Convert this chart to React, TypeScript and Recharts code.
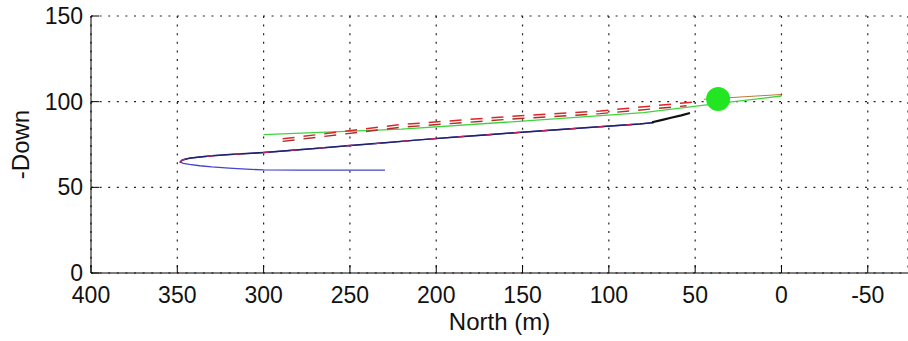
import React from "react";
import { ComposedChart, Line, Scatter, XAxis, YAxis, CartesianGrid } from "recharts";

// North (m) / -Down (m)
const northTicks = [400, 350, 300, 250, 200, 150, 100, 50, 0, -50];
const downTicks = [0, 50, 100, 150];

const blueNorth = [229.7, 260, 280, 300, 310, 320, 330, 337, 343, 346.5, 348.4, 347, 343, 337, 330, 320, 310, 300, 285, 270, 250, 230, 210, 190, 170, 150, 130, 110, 95, 82, 74];
const blueDown = [60.1, 60.1, 60.1, 60.2, 60.6, 61.2, 61.9, 62.6, 63.4, 64.0, 64.8, 66.0, 67.0, 67.7, 68.4, 69.1, 69.7, 70.3, 71.5, 72.7, 74.4, 76.0, 77.7, 79.3, 80.7, 82.2, 83.6, 85.0, 86.1, 87.0, 87.8];

// upper branch of the blue track, drawn again darker on top
const overNorth = [348.4, 347, 343, 337, 330, 320, 310, 300, 285, 270, 250, 230, 210, 190, 170, 150, 130, 110, 95, 82, 74];
const overDown = [64.8, 66.0, 67.0, 67.7, 68.4, 69.1, 69.7, 70.3, 71.5, 72.7, 74.4, 76.0, 77.7, 79.3, 80.7, 82.2, 83.6, 85.0, 86.1, 87.0, 87.8];

const blackNorth = [75, 69, 64, 58, 53];
const blackDown = [88.0, 89.4, 90.6, 92.0, 93.4];

const greenNorth = [300, 220, 160, 80, 40, 0];
const greenDown = [80.8, 84.0, 88.0, 93.6, 98.6, 103.3];

const redANorth = [289, 221, 160, 105, 47];
const redADown = [78.3, 86.6, 91.2, 94.6, 100.2];
const redBNorth = [289, 221, 160, 105, 55];
const redBDown = [76.8, 85.0, 89.6, 93.0, 97.6];
const brownNorth = [45, 0];
const brownDown = [101.4, 104.2];

const markerNorth = [36.7];
const markerDown = [101.6];

const pts = (xs: number[], ys: number[]) => xs.map((x, i) => ({ x, y: ys[i] }));

const FONT = "'Liberation Sans', Arial, sans-serif";

const XTick = (props: any) => {
  const { x, y, payload } = props;
  return (
    <g>
      <line x1={x} x2={x} y1={y} y2={y - 8} stroke="#000" />
      <text x={x} y={y + 30} textAnchor="middle" fontSize={23} fontFamily={FONT} fill="#111">
        {payload.value}
      </text>
    </g>
  );
};

const YTick = (props: any) => {
  const { x, y, payload } = props;
  return (
    <g>
      <line x1={x} x2={x + 8} y1={y} y2={y} stroke="#000" />
      <text x={x - 8} y={y + 8} textAnchor="end" fontSize={23} fontFamily={FONT} fill="#111">
        {payload.value}
      </text>
    </g>
  );
};

export default function App() {
  return (
    <div style={{ position: "absolute", left: 0, top: 0, width: 908, height: 341, background: "#fff" }}>
      <ComposedChart width={908} height={341} margin={{ top: 16, right: 0, bottom: 0, left: 0 }}>
        <CartesianGrid stroke="#222" strokeWidth={1.2} strokeDasharray="2 6.6" />
        <XAxis
          type="number"
          dataKey="x"
          domain={[-73.3, 400]}
          ticks={northTicks}
          reversed
          allowDataOverflow
          height={68}
          tickSize={0}
          tickMargin={0}
          tick={<XTick />}
          axisLine={{ stroke: "#000" }}
          label={{ value: "North (m)", position: "insideBottom", offset: 11, fontSize: 24, fontFamily: FONT, fill: "#111" }}
        />
        <YAxis
          type="number"
          dataKey="y"
          domain={[0, 150]}
          ticks={downTicks}
          allowDataOverflow
          width={91}
          tickSize={0}
          tickMargin={0}
          tick={<YTick />}
          axisLine={{ stroke: "#000" }}
          label={{
            content: (p: any) => {
              const vb = p.viewBox;
              const cx = vb.x + 20;
              const cy = vb.y + vb.height / 2;
              return (
                <text x={cx} y={cy} transform={`rotate(-90 ${cx} ${cy})`} textAnchor="middle" dominantBaseline="central" fontSize={24} fontFamily={FONT} fill="#111">
                  -Down
                </text>
              );
            },
          }}
        />
        <Line data={pts(greenNorth, greenDown)} dataKey="y" stroke="#3ed43e" strokeWidth={1.3} dot={false} isAnimationActive={false} />
        <Line data={pts(brownNorth, brownDown)} dataKey="y" stroke="#b87a3c" strokeWidth={1} dot={false} isAnimationActive={false} />
        <Line data={pts(redBNorth, redBDown)} dataKey="y" stroke="#a8302a" strokeWidth={1.4} strokeDasharray="12 9" dot={false} isAnimationActive={false} />
        <Line data={pts(redANorth, redADown)} dataKey="y" stroke="#e02424" strokeWidth={1.5} strokeDasharray="12 9" dot={false} isAnimationActive={false} />
        <Line data={pts(blueNorth, blueDown)} dataKey="y" stroke="#4444cc" strokeWidth={1.3} dot={false} isAnimationActive={false} />
        <Line data={pts(overNorth, overDown)} dataKey="y" stroke="#22226a" strokeWidth={1.5} dot={false} isAnimationActive={false} />
        <Line data={pts(overNorth, overDown)} dataKey="y" stroke="#c0245a" strokeWidth={1.4} strokeDasharray="6 22" dot={false} isAnimationActive={false} />
        <Line data={pts(blackNorth, blackDown)} dataKey="y" stroke="#111" strokeWidth={2.2} dot={false} isAnimationActive={false} />
        <Scatter
          data={pts(markerNorth, markerDown)}
          dataKey="y"
          isAnimationActive={false}
          shape={(p: any) => <circle cx={p.cx} cy={p.cy} r={12} fill="#22e622" />}
        />
      </ComposedChart>
    </div>
  );
}
